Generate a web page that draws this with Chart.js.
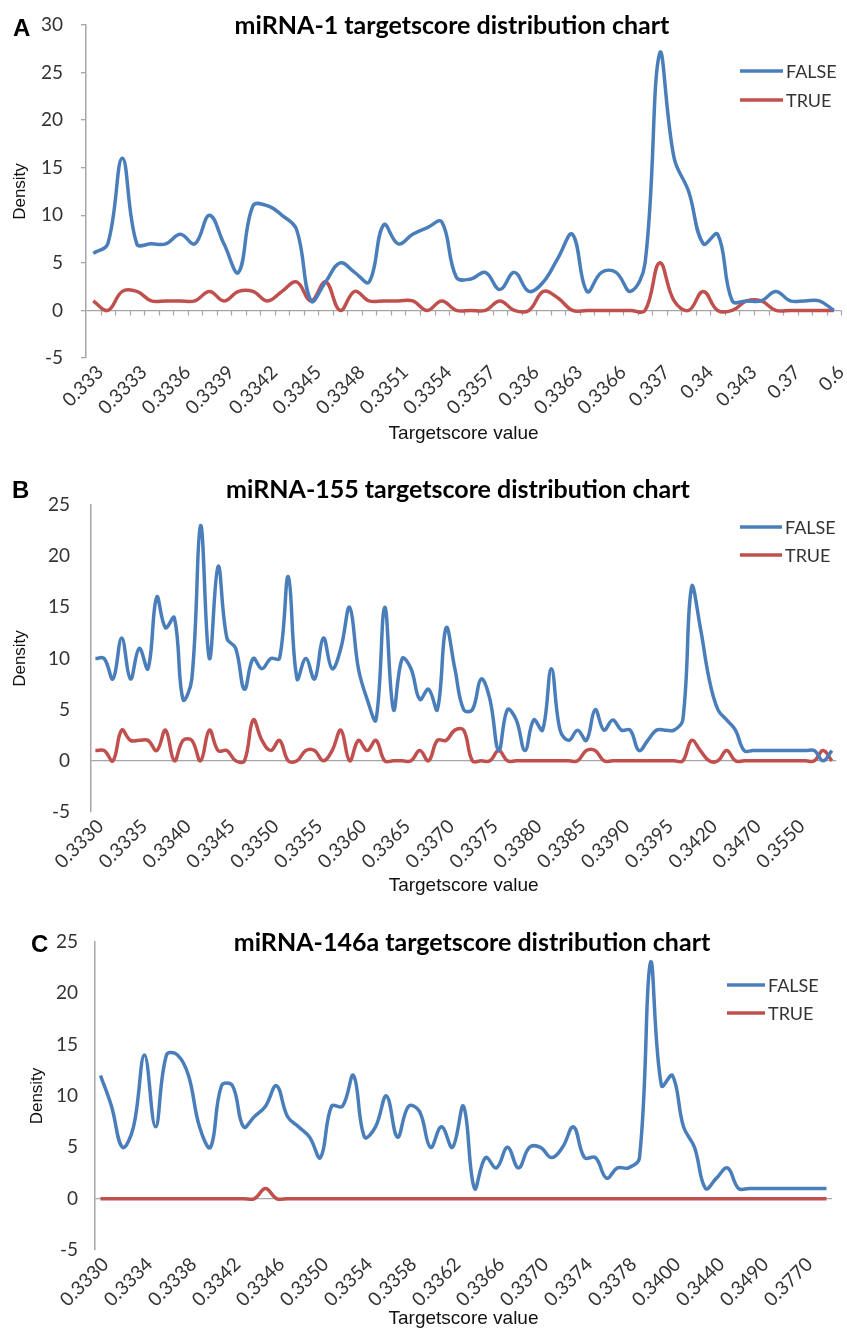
<!DOCTYPE html>
<html>
<head>
<meta charset="utf-8">
<script src="https://cdn.jsdelivr.net/npm/chart.js@4.4.1/dist/chart.umd.min.js"></script>
<style>
  body { margin: 0; background: #fff; width: 847px; height: 1330px; overflow: hidden; position: relative; }
  .panel { position: absolute; left: 0; }
  .letter { position: absolute; font: bold 24px "Liberation Sans", Arial, sans-serif; color: #000; line-height: 1; }
</style>
</head>
<body>
<!-- A and B run a few pixels past the right edge, as in the cropped original -->
<div class="panel" style="top:0px"><canvas id="chartA" width="853" height="450"></canvas></div>
<div class="panel" style="top:470px"><canvas id="chartB" width="851" height="430"></canvas></div>
<div class="panel" style="top:920px"><canvas id="chartC" width="847" height="410"></canvas></div>
<div class="letter" style="left:13px;top:16px">A</div>
<div class="letter" style="left:12px;top:478px">B</div>
<div class="letter" style="left:31px;top:932px">C</div>
<script>
// ---- miRNA-1 ----
const catsA = ['0.333','0.3331','0.3332','0.3333','0.3334','0.3335','0.3336','0.3337','0.3338','0.3339',
  '0.334','0.3341','0.3342','0.3343','0.3344','0.3345','0.3346','0.3347','0.3348','0.3349',
  '0.335','0.3351','0.3352','0.3353','0.3354','0.3355','0.3356','0.3357','0.3358','0.3359',
  '0.336','0.3361','0.3362','0.3363','0.3364','0.3365','0.3366','0.3367','0.3368','0.337',
  '0.338','0.339','0.34','0.341','0.342','0.343','0.35','0.36','0.37','0.4','0.5','0.6'];
const falseA = [6,7,16,7,7,7,8,7,10,7, 4,11,11,10,8.5,1,3,5,4,3, 9,7,8,8.7,9.3,3.5,3.3,4,2.2,4,
  2,3,5.5,8,2,4,4,2,5,27, 16,12.5,7,8,1,1,1,2,1,1, 1,0];
const trueA = [1,0,2,2,1,1,1,1,2,1, 2,2,1,2,3,1,3,0,2,1, 1,1,1,0,1,0,0,0,1,0,
  0,2,1.3,0,0,0,0,0,0,5, 1,0,2,0,0,1,1,0,0,0, 0,0];

// ---- miRNA-155 ----
const catsB = ['0.3330','0.3331','0.3332','0.3333','0.3334','0.3335','0.3336','0.3337','0.3338','0.3339',
  '0.3340','0.3341','0.3342','0.3343','0.3344','0.3345','0.3346','0.3347','0.3348','0.3349',
  '0.3350','0.3351','0.3352','0.3353','0.3354','0.3355','0.3356','0.3357','0.3358','0.3359',
  '0.3360','0.3361','0.3362','0.3363','0.3364','0.3365','0.3366','0.3367','0.3368','0.3369',
  '0.3370','0.3371','0.3372','0.3373','0.3374','0.3375','0.3376','0.3377','0.3378','0.3379',
  '0.3380','0.3381','0.3382','0.3383','0.3384','0.3385','0.3386','0.3387','0.3388','0.3389',
  '0.3390','0.3391','0.3392','0.3393','0.3394','0.3395','0.3396','0.3397','0.3398','0.3400',
  '0.3420','0.3430','0.3440','0.3450','0.3460','0.3470','0.3480','0.3490','0.3510','0.3530',
  '0.3550','0.3600','0.3700','0.3800','0.4000'];
const falseB = [10,10,8,12,8,11,9,16,13,14, 6,8,23,10,19,12,11,7,10,9,
  10,10,18,8,10,8,12,9,11,15, 9,6,4,15,5,10,9,6,7,5,
  13,9,5,5,8,6,1,5,4,1, 4,3,9,3,2,3,2,5,3,4,
  3,3,1,2,3,3,3,4,17,13, 8,5,4,3,1,1,1,1,1,1, 1,1,1,0,1];
const trueB = [1,1,0,3,2,2,2,1,3,0, 2,2,0,3,1,1,0,0,4,2,
  1,2,0,0,1,1,0,1,3,0, 2,1,2,0,0,0,0,1,0,2,
  2,3,3,0,0,0,1,0,0,0, 0,0,0,0,0,0,1,1,0,0,
  0,0,0,0,0,0,0,0,2,1, 0,0,1,0,0,0,0,0,0,0, 0,0,0,1,0];

// ---- miRNA-146a ----
const catsC = ['0.3330','0.3331','0.3332','0.3333','0.3334','0.3335','0.3336','0.3337','0.3338','0.3339',
  '0.3340','0.3341','0.3342','0.3343','0.3344','0.3345','0.3346','0.3347','0.3348','0.3349',
  '0.3350','0.3351','0.3352','0.3353','0.3354','0.3355','0.3356','0.3357','0.3358','0.3359',
  '0.3360','0.3361','0.3362','0.3363','0.3364','0.3365','0.3366','0.3367','0.3368','0.3369',
  '0.3370','0.3371','0.3372','0.3373','0.3374','0.3375','0.3376','0.3377','0.3378','0.3379',
  '0.3380','0.3390','0.3400','0.3410','0.3420','0.3430','0.3440','0.3450','0.3460','0.3470',
  '0.3490','0.3500','0.3550','0.3600','0.3770','0.3800','0.4000'];
const falseC = [12,9,5,7,14,7,14,14,12,7, 5,11,11,7,8,9,11,8,7,6,
  4,9,9,12,6,7,10,6,9,8.5, 5,7,5,9,1,4,3,5,3,5,
  5,4,5,7,4,4,2,3,3,4, 23,11,12,7,5,1,2,3,1,1, 1,1,1,1,1,1,1];
const trueC = [0,0,0,0,0,0,0,0,0,0, 0,0,0,0,0,1,0,0,0,0,
  0,0,0,0,0,0,0,0,0,0, 0,0,0,0,0,0,0,0,0,0,
  0,0,0,0,0,0,0,0,0,0, 0,0,0,0,0,0,0,0,0,0, 0,0,0,0,0,0,0];

const BLUE = '#4A7EBB';
const RED = '#C0504D';
const AXIS = '#a6a6a6';

// title, legend and the little marks on the zero line
const panelDecor = {
  id: 'panelDecor',
  beforeDatasetsDraw(chart, args, o) {
    if (!o.zeroTicks) return;
    const xs = chart.scales.x, ys = chart.scales.y, ctx = chart.ctx;
    const y0 = ys.getPixelForValue(0);
    const half = (xs.getPixelForValue(1) - xs.getPixelForValue(0)) / 2;
    ctx.save();
    ctx.strokeStyle = AXIS;
    ctx.lineWidth = 1.2;
    ctx.beginPath();
    for (let i = 0; i < xs.getLabels().length; i++) {
      const px = Math.round(xs.getPixelForValue(i) + half) + 0.5;
      ctx.moveTo(px, y0);
      ctx.lineTo(px, y0 + 5);
    }
    ctx.stroke();
    ctx.restore();
  },
  afterDraw(chart, args, o) {
    const ctx = chart.ctx;
    ctx.save();
    ctx.fillStyle = '#000';
    ctx.font = 'bold 25px Lato, "Open Sans", sans-serif';
    ctx.textAlign = 'center';
    ctx.textBaseline = 'middle';
    ctx.fillText(o.title, o.titleX, o.titleY);
    ctx.font = '18px Lato, "Open Sans", sans-serif';
    ctx.textAlign = 'left';
    chart.data.datasets.forEach((ds, k) => {
      const yy = o.legY + k * o.legGap;
      ctx.strokeStyle = ds.borderColor;
      ctx.lineWidth = 3.5;
      ctx.beginPath();
      ctx.moveTo(o.legX, yy);
      ctx.lineTo(o.legX + o.legLen, yy);
      ctx.stroke();
      ctx.fillStyle = '#333';
      ctx.fillText(ds.label, o.legX + o.legLen + 3, yy + 1);
    });
    ctx.restore();
  }
};

function makeChart(id, cats, fVals, tVals, cfg) {
  return new Chart(document.getElementById(id), {
    type: 'line',
    data: {
      labels: cats,
      datasets: [
        { label: 'FALSE', data: fVals, borderColor: BLUE, borderWidth: 3.5, pointRadius: 0, tension: 0.4, fill: false },
        { label: 'TRUE', data: tVals, borderColor: RED, borderWidth: 3.5, pointRadius: 0, tension: 0.4, fill: false }
      ]
    },
    plugins: [panelDecor],
    options: {
      responsive: false,
      animation: false,
      layout: { padding: { top: cfg.top, right: cfg.right || 0, left: 0, bottom: 0 } },
      plugins: {
        legend: { display: false },
        title: { display: false },
        tooltip: { enabled: false },
        panelDecor: cfg.decor
      },
      scales: {
        x: {
          type: 'category',
          offset: true,
          grid: { display: false, drawTicks: false },
          border: { display: false },
          ticks: {
            autoSkip: false,
            maxRotation: 45,
            minRotation: 45,
            padding: 3,
            labelOffset: cfg.xShift,
            color: '#333',
            font: { family: 'Lato', size: 19 },
            callback: (v, i) => (i % cfg.step === 0 ? cats[i] : '')
          },
          title: {
            display: true,
            text: 'Targetscore value',
            color: '#111',
            font: { family: 'Liberation Sans', size: 19 },
            padding: { top: 0, bottom: cfg.xTitlePad }
          },
          afterFit: (s) => { s.height = cfg.xHeight; }
        },
        y: {
          min: -5,
          max: cfg.yMax,
          ticks: { stepSize: 5, color: '#333', padding: cfg.yPad, font: { family: 'Lato', size: 19 } },
          grid: {
            drawOnChartArea: true,
            drawTicks: cfg.yTicks,
            tickLength: 5,
            tickColor: AXIS,
            lineWidth: 1.3,
            color: (c) => (c.tick && c.tick.value === 0 ? AXIS : 'rgba(0,0,0,0)')
          },
          border: { color: AXIS, width: 1.5 },
          title: {
            display: true,
            text: 'Density',
            color: '#111',
            font: { family: 'Liberation Sans', size: 17 },
            padding: { top: cfg.dPad, bottom: 0 }
          },
          afterFit: (s) => {
            s.width = cfg.yWidth;
            // the horizontal label padding should not push the plot down
            s.paddingTop = 10;
            s.paddingBottom = 10;
          }
        }
      }
    }
  });
}

makeChart('chartA', catsA, falseA, trueA, {
  top: 25, step: 3, yMax: 30, yPad: 18, yTicks: true, yWidth: 86,
  xHeight: 92, xTitlePad: 5, dPad: 10, xShift: 7,
  decor: { zeroTicks: true, title: 'miRNA-1 targetscore distribution chart', titleX: 452, titleY: 26,
    legX: 740, legY: 71, legGap: 29, legLen: 43 }
});
makeChart('chartB', catsB, falseB, trueB, {
  top: 35, step: 5, yMax: 25, yPad: 21, yTicks: false, yWidth: 91,
  xHeight: 88, xTitlePad: 3, dPad: 10, xShift: 5,
  decor: { zeroTicks: false, title: 'miRNA-155 targetscore distribution chart', titleX: 458, titleY: 20,
    legX: 740, legY: 57, legGap: 28, legLen: 42 }
});
makeChart('chartC', catsC, falseC, trueC, {
  top: 22, right: 15, step: 4, yMax: 25, yPad: 17, yTicks: false, yWidth: 95,
  xHeight: 80, xTitlePad: 0, dPad: 27, xShift: 5,
  decor: { zeroTicks: false, title: 'miRNA-146a targetscore distribution chart', titleX: 472, titleY: 23,
    legX: 727, legY: 65, legGap: 28, legLen: 38 }
});
</script>
</body>
</html>
